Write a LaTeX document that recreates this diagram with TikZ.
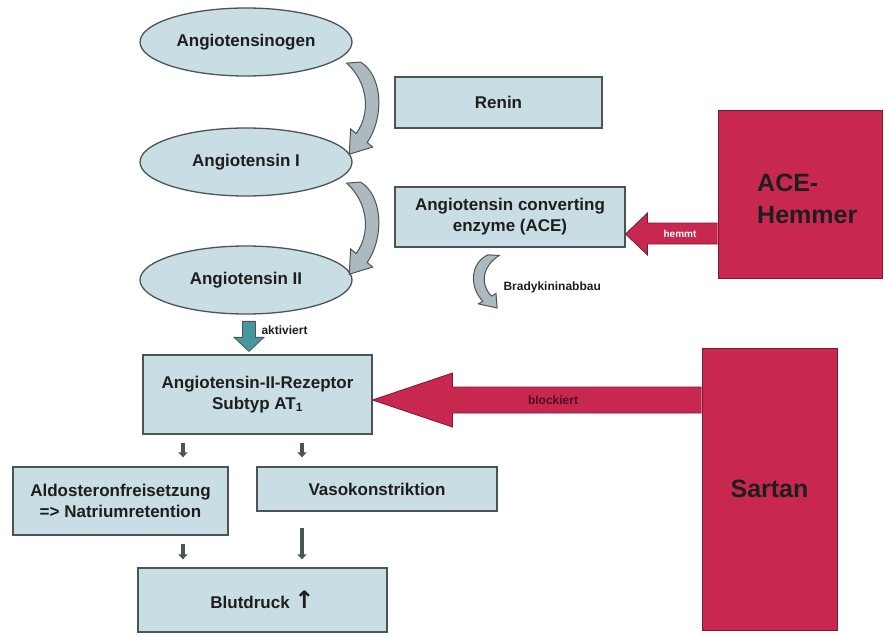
\documentclass[tikz,border=0pt]{standalone}
\usepackage{fontspec}
\setmainfont{Liberation Sans}
\newfontfamily\symfont{DejaVu Sans}
\usetikzlibrary{shapes.geometric,arrows.meta,calc}

\definecolor{boxblue}{RGB}{201,221,228}
\definecolor{boxline}{RGB}{77,84,87}
\definecolor{crimson}{RGB}{200,40,80}
\definecolor{crimsonline}{RGB}{120,26,50}
\definecolor{bendgray}{RGB}{172,185,190}
\definecolor{tealarr}{RGB}{70,152,158}
\definecolor{ink}{RGB}{30,30,30}

\begin{document}
\begin{tikzpicture}[x=1pt, y=-1pt,
    box/.style={rectangle, draw=boxline, fill=boxblue, line width=1.3pt, align=center,
                text=ink, font=\fontsize{17}{21}\selectfont\bfseries, inner sep=0pt},
    oval/.style={ellipse, draw=boxline, fill=boxblue, line width=1.3pt, text=ink,
                 minimum width=212pt, minimum height=68pt, font=\fontsize{17}{21}\selectfont\bfseries},
    redbox/.style={rectangle, draw=crimsonline, fill=crimson, line width=1pt},
    redarrow/.style={draw=crimsonline, fill=crimson, line width=0.8pt},
    tealarrow/.style={draw=boxline, fill=tealarr, line width=0.8pt},
    bendfill/.style={draw=boxline, fill=bendgray, line width=1pt},
    small/.style={text=ink, font=\fontsize{12}{14}\selectfont\bfseries},
    big/.style={text=ink, font=\fontsize{25}{32}\selectfont\bfseries, align=left, inner sep=0pt},
    smallarrow/.style={draw=boxline, line width=4pt, -{Triangle[width=9pt,length=5pt]}},
    bendarrow/.pic={\draw[bendfill] (15,2) .. controls (37,15) and (39,55) .. (21.5,79.3)
        -- (27,83.7) -- (3.6,90.6) -- (5,66.3) -- (10.5,70.7)
        .. controls (25,52) and (23,22) .. (1,3) -- cycle;}]
    \useasboundingbox (0,0) rectangle (885,635);
    \node[oval] (egen) at (246,42) {Angiotensinogen};
    \node[oval] (ang1) at (246,162) {Angiotensin I};
    \node[oval] (ang2) at (246,280) {Angiotensin II};
    \node[box, minimum width=207pt, minimum height=51pt] (renin) at (498.5,102.5) {Renin};
    \node[box, minimum width=230pt, minimum height=60pt] (ace) at (510,217) {Angiotensin converting\\enzyme (ACE)};
    \node[redbox, minimum width=164pt, minimum height=168pt] (hemmer) at (800,194) {};
    \node[big, anchor=west] (hemmertxt) at (757,199) {ACE-\\Hemmer};
    \node[redbox, big, minimum width=135pt, minimum height=282pt] (sartan) at (769.5,489) {Sartan};
    \node[box, minimum width=229pt, minimum height=79pt] (rez) at (257.5,394.5) {Angiotensin-II-Rezeptor\\Subtyp AT\textsubscript{1}};
    \node[box, minimum width=215pt, minimum height=68pt] (aldo) at (120.5,501) {Aldosteronfreisetzung\\=> Natriumretention};
    \node[box, minimum width=240pt, minimum height=44pt] (vaso) at (377,489) {Vasokonstriktion};
    \node[box, minimum width=249pt, minimum height=64pt] (blut) at (262.5,600) {Blutdruck {\symfont\fontsize{24}{24}\selectfont ↑}};

    \pic[yscale=1.04] at ($(egen.east)+(-7,18)$) {bendarrow};
    \pic[yscale=1.04] at ($(ang1.east)+(-7,18)$) {bendarrow};
    \pic[xscale=-0.8, yscale=0.6] at ($(ace.south)+(-10,6)$) {bendarrow};
    \node[small, anchor=west] (brady) at (500,287) {Bradykininabbau};

    \draw[tealarrow] ($(rez.north)+(-15,-33)$) -- ++(13,0) -- ++(0,16) -- ++(8.5,0)
        -- ++(-15,14) -- ++(-15,-14) -- ++(8.5,0) -- cycle;
    \node[small, anchor=west] (akt) at (258,330) {aktiviert};

    \draw[redarrow] ($(hemmer.west)+(0,29)$) -- ++(-70,0) -- ++(0,-10) -- ++(-22,21)
        -- ++(22,21) -- ++(0,-11) -- ++(70,0);
    \node[text=white, font=\fontsize{10}{12}\selectfont\bfseries] (hemmt) at (680,233.5) {hemmt};
    \draw[redarrow] ($(sartan.west)+(0,-102)$) -- ++(-249,0) -- ++(0,-14) -- ++(-80,27)
        -- ++(80,27) -- ++(0,-14) -- ++(249,0);
    \node[small, text=crimsonline!60!black] (block) at (553,400) {blockiert};

    \draw[smallarrow] ($(rez.south)+(-74.5,8)$) -- ($(aldo.north)+(62.5,-9)$);
    \draw[smallarrow] ($(rez.south)+(44.5,8)$) -- ($(vaso.north)+(-75,-9)$);
    \draw[smallarrow] ($(aldo.south)+(62.5,8)$) -- ($(blut.north)+(-79.5,-8)$);
    \draw[smallarrow] ($(vaso.south)+(-75,16)$) -- ($(blut.north)+(39.5,-8)$);
\end{tikzpicture}
\end{document}
